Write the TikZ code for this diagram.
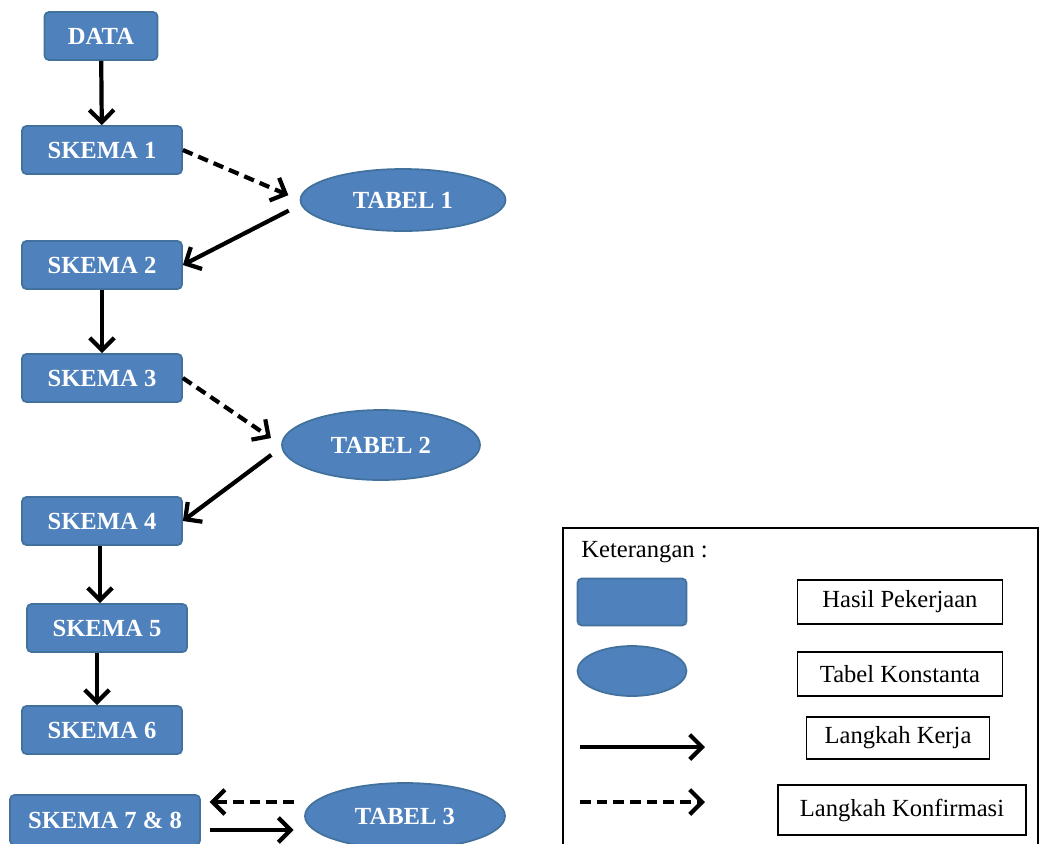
\documentclass[tikz,border=0pt]{standalone}
\usepackage{fontspec}
\setmainfont{Liberation Serif}
\usetikzlibrary{arrows.meta, shapes.geometric, positioning, calc}
\definecolor{skemablue}{HTML}{4F81BD}
\definecolor{skemaline}{HTML}{41719C}

\begin{document}
\begin{tikzpicture}[x=0.02cm, y=-0.02cm,
    skema/.style={rectangle, rounded corners=2.5pt, fill=skemablue, draw=skemaline, line width=1pt,
      text=white, font=\fontsize{14}{16}\selectfont\bfseries, minimum width=3.2cm, minimum height=0.96cm, inner sep=0pt},
    tabel/.style={ellipse, fill=skemablue, draw=skemaline, line width=1pt,
      text=white, font=\fontsize{14}{16}\selectfont\bfseries, inner sep=0pt},
    kerja/.style={-{Straight Barb[length=7pt, width=14pt]}, line width=2.4pt},
    konfirm/.style={kerja, dash pattern=on 6pt off 3.5pt},
    ketbox/.style={draw, line width=0.9pt, fill=white, font=\fontsize{14}{16}\selectfont, inner sep=0pt}]
      \useasboundingbox (0,0) rectangle (1042,843);
      \clip (0,0) rectangle (1042,843);

      \node[skema, minimum width=2.26cm] (data) at (101,36) {DATA};
      \node[skema] (s1) at (102,150) {SKEMA 1};
      \node[skema] (s2) at (102,265) {SKEMA 2};
      \node[skema] (s3) at (102,378) {SKEMA 3};
      \node[skema] (s4) at (102,521) {SKEMA 4};
      \node[skema] (s5) at (107,628) {SKEMA 5};
      \node[skema] (s6) at (102,730) {SKEMA 6};
      \node[skema, minimum width=3.8cm, minimum height=1.0cm] (s78) at (105,820) {SKEMA 7 \& 8};

      \node[tabel, minimum width=4.1cm, minimum height=1.24cm] (t1) at (403,200) {TABEL 1};
      \node[tabel, minimum width=3.96cm, minimum height=1.4cm] (t2) at (381,445) {TABEL 2};
      \node[tabel, minimum width=4.0cm, minimum height=1.32cm] (t3) at (405,816) {TABEL 3};

      \draw[kerja] (data) -- (s1);
      \draw[konfirm, shorten >=7pt] (s1.east) -- (t1.west);
      \draw[kerja, shorten <=7pt] ([yshift=-0.1cm]t1.west) -- (s2.east);
      \draw[kerja] (s2) -- (s3);
      \draw[konfirm, shorten >=7pt] (s3.east) -- (t2.west);
      \draw[kerja, shorten <=7pt] ([yshift=-0.05cm]t2.west) -- (s4.east);
      \draw[kerja] (s4.south -| 100,0) -- (s5.north -| 100,0);
      \draw[kerja] (s5.south -| 97,0) -- (s6.north -| 97,0);
      \draw[konfirm, shorten <=6pt, shorten >=5pt] ([yshift=0.28cm]t3.west) -- ([yshift=0.28cm]t3.west -| s78.east);
      \draw[kerja, shorten <=5pt, shorten >=6pt] ([yshift=-0.28cm]t3.west -| s78.east) -- ([yshift=-0.28cm]t3.west);

      % keterangan
      \draw[line width=1.1pt] (563,528) rectangle (1038,860);
      \node[anchor=west, inner sep=0pt, font=\fontsize{14}{16}\selectfont] (ket) at (581,552) {Keterangan :};
      \node[skema, minimum width=2.18cm, minimum height=0.94cm] (kbox) at (632,602) {};
      \node[tabel, minimum width=2.18cm, minimum height=1.0cm] (kell) at (632,671) {};
      \coordinate (ka) at (580,747);
      \coordinate (kb) at (705,747);
      \coordinate (kc) at (580,802);
      \coordinate (kd) at (705,802);
      \draw[kerja] (ka) -- (kb);
      \draw[konfirm] (kc) -- (kd);
      \node[ketbox, minimum width=4.1cm, minimum height=0.88cm] (hasil) at (900,602) {Hasil Pekerjaan};
      \node[ketbox, minimum width=4.1cm, minimum height=0.88cm] (tkons) at (900,674) {Tabel Konstanta};
      \node[ketbox, minimum width=3.66cm, minimum height=0.84cm] (lkerja) at (898,738) {Langkah Kerja};
      \node[ketbox, minimum width=4.96cm, minimum height=1.0cm] (lkonf) at (902,810) {Langkah Konfirmasi};
    \end{tikzpicture}
\end{document}
